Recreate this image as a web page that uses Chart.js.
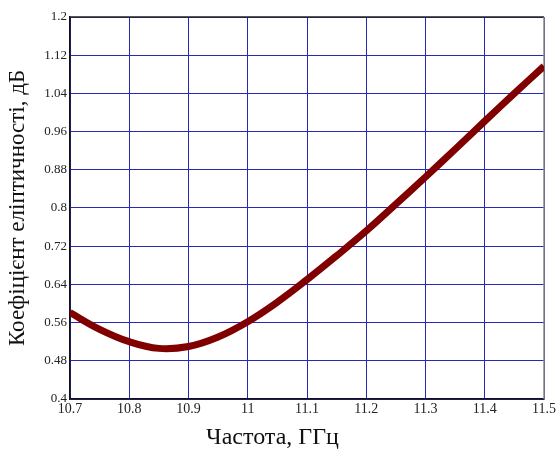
<!DOCTYPE html>
<html>
<head>
<meta charset="utf-8">
<script src="https://cdn.jsdelivr.net/npm/chart.js@4"></script>
<style>
  html, body { margin: 0; padding: 0; background: #fff; }
  #wrap { width: 558px; height: 450px; }
</style>
</head>
<body>
<div id="wrap"><canvas id="chart"></canvas></div>
<script>
// --- data ---
const freq = [10.70, 10.75, 10.80, 10.85, 10.90, 10.95, 11.00, 11.05, 11.10, 11.15, 11.20, 11.25, 11.30, 11.35, 11.40, 11.45, 11.50];
const ellip = [0.581, 0.546, 0.520, 0.506, 0.510, 0.530, 0.562, 0.603, 0.650, 0.700, 0.752, 0.808, 0.865, 0.923, 0.982, 1.040, 1.097];

const xTicks = [10.7, 10.8, 10.9, 11, 11.1, 11.2, 11.3, 11.4, 11.5];
const yTicks = [0.4, 0.48, 0.56, 0.64, 0.72, 0.8, 0.88, 0.96, 1.04, 1.12, 1.2];

const serif = "'Liberation Serif', 'DejaVu Serif', serif";
const gridBlue = '#2828b4';

const fmt = v => parseFloat(Number(v).toFixed(2)).toString();

// top and right frame lines
const frame = {
    id: 'frame',
    beforeDatasetsDraw(chart) {
        const { ctx, chartArea: a } = chart;
        ctx.save();
        ctx.lineWidth = 1.5;
        ctx.strokeStyle = '#222';
        ctx.beginPath();
        ctx.moveTo(a.left, a.top);
        ctx.lineTo(a.right, a.top);
        ctx.stroke();
        ctx.strokeStyle = '#888';
        ctx.beginPath();
        ctx.moveTo(a.right, a.top);
        ctx.lineTo(a.right, a.bottom);
        ctx.stroke();
        ctx.restore();
    }
};

new Chart(document.getElementById('chart').getContext('2d'), {
    type: 'line',
    data: {
        datasets: [{
            data: freq.map((f, i) => ({ x: f, y: ellip[i] })),
            borderColor: '#800000',
            borderWidth: 7,
            pointRadius: 0,
            tension: 0.4,
            fill: false
        }]
    },
    options: {
        responsive: true,
        maintainAspectRatio: false,
        animation: false,
        layout: { padding: { top: 17, right: 13, left: 0, bottom: 0 } },
        plugins: {
            legend: { display: false },
            tooltip: { enabled: false },
            title: {
                display: true,
                position: 'bottom',
                text: 'Частота, ГГц',
                color: '#111',
                font: { family: serif, size: 24, weight: 'normal', lineHeight: 1 },
                padding: { top: 0, bottom: 0 }
            }
        },
        scales: {
            x: {
                type: 'linear',
                min: 10.7,
                max: 11.5,
                afterBuildTicks: s => { s.ticks = xTicks.map(v => ({ value: v })); },
                afterFit: s => { s.height = 27; },
                ticks: {
                    color: '#222',
                    font: { family: serif, size: 14 },
                    padding: 2,
                    maxRotation: 0,
                    autoSkip: false,
                    callback: v => fmt(v)
                },
                grid: { drawTicks: false, lineWidth: 1, color: gridBlue },
                border: { color: '#111', width: 1.5 }
            },
            y: {
                min: 0.4,
                max: 1.2,
                afterBuildTicks: s => { s.ticks = yTicks.map(v => ({ value: v })); },
                afterFit: s => { s.width = 70; },
                ticks: {
                    color: '#222',
                    font: { family: serif, size: 13 },
                    padding: 3,
                    autoSkip: false,
                    callback: v => fmt(v)
                },
                grid: { drawTicks: false, lineWidth: 1, color: gridBlue },
                border: { color: '#111', width: 1.5 },
                title: {
                    display: true,
                    text: 'Коефіцієнт еліптичності, дБ',
                    color: '#111',
                    font: { family: serif, size: 23, weight: 'normal' },
                    padding: { top: 4, bottom: 0 }
                }
            }
        }
    },
    plugins: [frame]
});
</script>
</body>
</html>
